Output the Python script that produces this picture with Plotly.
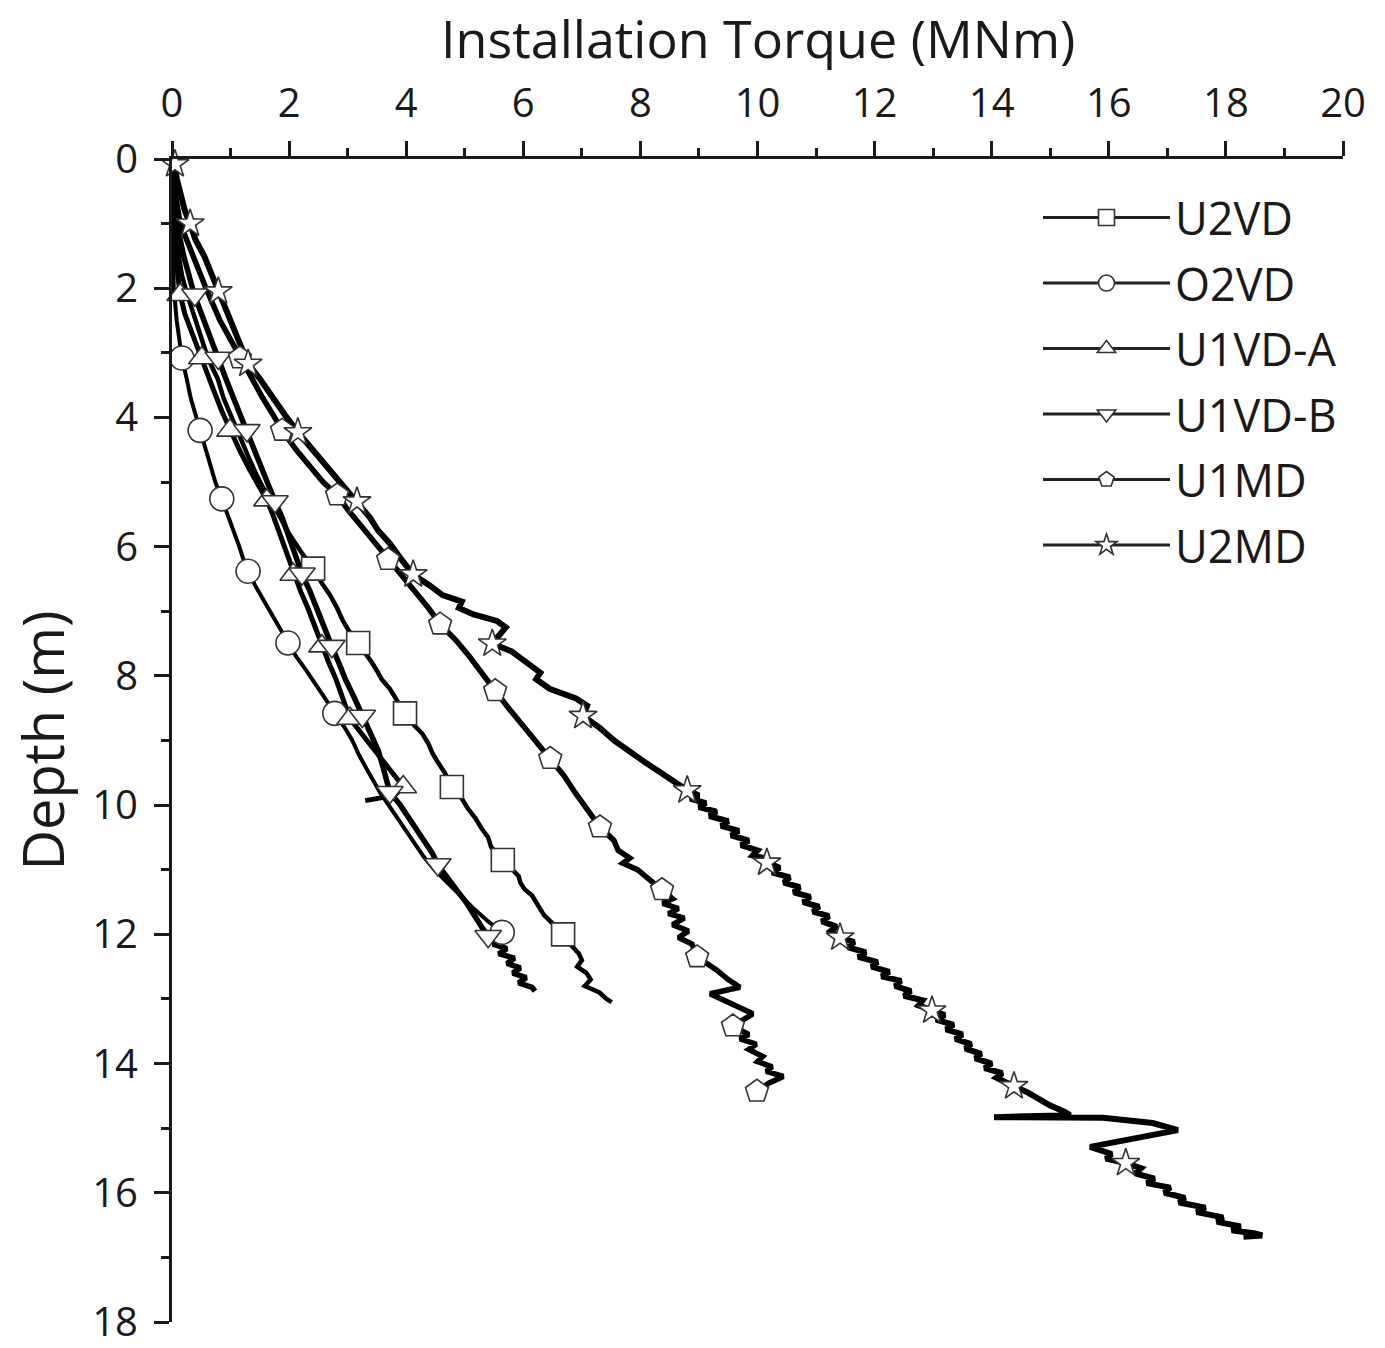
import plotly.graph_objects as go

# ---------------- data (depth in m, torque in MNm) ----------------
u2vd_depth = [0.0, 0.3, 0.7, 1.0, 1.4, 1.8, 2.1, 2.5, 2.8, 3.1, 3.4, 3.7, 4.0, 4.3, 4.6, 4.9, 5.2, 5.5, 5.8, 6.1,
              6.34, 6.55, 6.75, 6.95, 7.15, 7.3, 7.49, 7.65, 7.8, 7.92, 8.05, 8.2, 8.35, 8.45, 8.58, 8.75, 8.9,
              9.05, 9.2, 9.35, 9.5, 9.72, 9.9, 10.05, 10.2, 10.35, 10.5, 10.65, 10.85, 11.0, 11.1, 11.2, 11.3,
              11.4, 11.55, 11.7, 11.85, 12.0, 12.15, 12.3, 12.4, 12.5, 12.6, 12.7, 12.8, 12.9, 13.0, 13.05]
u2vd_torque = [0.0, 0.02, 0.04, 0.05, 0.10, 0.17, 0.26, 0.40, 0.50, 0.62, 0.78, 0.88, 1.02, 1.15, 1.30, 1.45, 1.62,
               1.82, 2.00, 2.22, 2.41, 2.55, 2.70, 2.82, 2.92, 3.02, 3.18, 3.30, 3.42, 3.50, 3.58, 3.72, 3.82, 3.88,
               3.98, 4.12, 4.28, 4.38, 4.45, 4.55, 4.66, 4.78, 4.95, 5.05, 5.18, 5.28, 5.40, 5.45, 5.65, 5.80, 5.92,
               5.95, 6.02, 6.15, 6.25, 6.35, 6.52, 6.68, 6.80, 6.95, 7.00, 6.92, 7.08, 7.15, 7.05, 7.30, 7.42, 7.51]
u2vd_mk_depth = [6.34, 7.49, 8.58, 9.72, 10.85, 12.0]
u2vd_mk_torque = [2.41, 3.18, 3.98, 4.78, 5.65, 6.68]

o2vd_depth = [0.0, 0.5, 1.0, 1.5, 2.0, 2.5, 3.08, 3.4, 3.7, 3.95, 4.2, 4.5, 4.8, 5.0, 5.26, 5.5, 5.75, 6.0, 6.2,
              6.38, 6.6, 6.85, 7.05, 7.25, 7.49, 7.7, 7.9, 8.1, 8.3, 8.58, 8.8, 9.0, 9.2, 9.4, 9.6, 9.8, 10.0,
              10.2, 10.4, 10.6, 10.8, 11.0, 11.2, 11.4, 11.6, 11.8, 11.97]
o2vd_torque = [0.0, 0.0, 0.01, 0.02, 0.03, 0.08, 0.17, 0.25, 0.32, 0.40, 0.48, 0.58, 0.68, 0.74, 0.85, 0.95, 1.05,
               1.15, 1.22, 1.30, 1.42, 1.58, 1.70, 1.82, 1.98, 2.12, 2.28, 2.42, 2.58, 2.78, 2.95, 3.08, 3.18, 3.30,
               3.42, 3.55, 3.70, 3.85, 4.00, 4.15, 4.30, 4.48, 4.70, 4.92, 5.15, 5.40, 5.64]
o2vd_mk_depth = [3.08, 4.2, 5.26, 6.38, 7.49, 8.58, 11.97]
o2vd_mk_torque = [0.17, 0.48, 0.85, 1.30, 1.98, 2.78, 5.64]

u1vda_depth = [0.0, 0.5, 1.0, 1.5, 2.1, 2.4, 2.7, 3.08, 3.3, 3.6, 3.9, 4.2, 4.5, 4.8, 5.05, 5.28, 5.5, 5.75, 6.0,
               6.2, 6.43, 6.7, 6.95, 7.2, 7.54, 7.8, 8.05, 8.3, 8.5, 8.66, 8.85, 9.05, 9.25, 9.45, 9.6, 9.72,
               9.85, 9.93]
u1vda_torque = [0.0, 0.0, 0.02, 0.06, 0.14, 0.22, 0.34, 0.51, 0.60, 0.72, 0.85, 0.99, 1.15, 1.32, 1.48, 1.62, 1.72,
                1.82, 1.92, 2.00, 2.08, 2.20, 2.32, 2.42, 2.56, 2.68, 2.80, 2.90, 2.98, 3.04, 3.20, 3.38, 3.55,
                3.72, 3.85, 3.95, 3.80, 3.30]
u1vda_mk_depth = [2.1, 3.08, 4.2, 5.28, 6.43, 7.54, 8.66, 9.72]
u1vda_mk_torque = [0.14, 0.51, 0.99, 1.62, 2.07, 2.56, 3.04, 3.95]

u1vdb_depth = [0.0, 0.5, 1.0, 1.5, 2.1, 2.4, 2.7, 3.08, 3.4, 3.7, 4.0, 4.2, 4.5, 4.8, 5.05, 5.3, 5.55, 5.8, 6.1,
               6.42, 6.7, 7.0, 7.25, 7.54, 7.8, 8.05, 8.35, 8.62, 8.9, 9.15, 9.4, 9.6, 9.8, 10.0, 10.2, 10.4, 10.6,
               10.75, 10.92, 11.1, 11.3, 11.5, 11.7, 11.9, 12.03, 12.1, 12.15, 12.22, 12.3, 12.37, 12.45, 12.52,
               12.6, 12.67, 12.75, 12.82, 12.88]
u1vdb_torque = [0.0, 0.02, 0.08, 0.20, 0.38, 0.50, 0.62, 0.79, 0.92, 1.05, 1.18, 1.28, 1.40, 1.52, 1.64, 1.76, 1.88,
                1.98, 2.10, 2.22, 2.36, 2.50, 2.62, 2.73, 2.85, 2.96, 3.12, 3.25, 3.40, 3.52, 3.60, 3.66, 3.72, 3.90,
                4.05, 4.20, 4.35, 4.45, 4.54, 4.70, 4.85, 5.02, 5.15, 5.30, 5.40, 5.62, 5.48, 5.72, 5.58, 5.85,
                5.72, 5.95, 5.82, 6.05, 5.92, 6.15, 6.20]
u1vdb_mk_depth = [2.1, 3.08, 4.2, 5.3, 6.42, 7.54, 8.62, 9.8, 10.92, 12.03]
u1vdb_mk_torque = [0.39, 0.79, 1.28, 1.76, 2.22, 2.73, 3.25, 3.72, 4.54, 5.40]

u1md_depth = [0.0, 0.5, 1.0, 1.5, 2.0, 2.5, 3.08, 3.4, 3.7, 3.95, 4.2, 4.5, 4.8, 5.0, 5.2, 5.45, 5.7, 5.95, 6.2,
              6.45, 6.7, 6.95, 7.2, 7.45, 7.7, 7.95, 8.23, 8.5, 8.75, 9.0, 9.28, 9.55, 9.8, 10.05, 10.34, 10.55,
              10.7, 10.82, 10.9, 11.0, 11.15, 11.31, 11.45, 11.52, 11.6, 11.68, 11.75, 11.85, 11.95, 12.05, 12.15,
              12.35, 12.45, 12.55, 12.7, 12.82, 12.92, 13.05, 13.15, 13.23, 13.42, 13.55, 13.62, 13.7, 13.78,
              13.89, 13.97, 14.05, 14.12, 14.2, 14.3, 14.43]
u1md_torque = [0.0, 0.05, 0.14, 0.35, 0.58, 0.82, 1.16, 1.35, 1.55, 1.72, 1.88, 2.12, 2.40, 2.58, 2.82, 3.02, 3.25,
               3.48, 3.69, 3.92, 4.15, 4.38, 4.58, 4.85, 5.08, 5.28, 5.52, 5.75, 5.98, 6.20, 6.46, 6.70, 6.88,
               7.08, 7.31, 7.55, 7.62, 7.82, 7.70, 7.95, 8.15, 8.37, 8.55, 8.38, 8.65, 8.48, 8.75, 8.55, 8.82,
               8.65, 8.88, 8.97, 9.15, 9.30, 9.50, 9.70, 9.19, 9.50, 9.70, 9.92, 9.58, 9.85, 9.70, 9.98, 9.85,
               10.09, 10.00, 10.25, 10.15, 10.44, 10.20, 9.99]
u1md_mk_depth = [3.08, 4.2, 5.2, 6.2, 7.2, 8.23, 9.28, 10.34, 11.31, 12.35, 13.42, 14.43]
u1md_mk_torque = [1.16, 1.88, 2.82, 3.69, 4.58, 5.52, 6.46, 7.31, 8.37, 8.97, 9.58, 9.99]

u2md_depth = [0.0, 0.08, 0.3, 0.55, 0.8, 1.0, 1.25, 1.5, 1.75, 2.05, 2.3, 2.6, 2.9, 3.17, 3.4, 3.7, 3.95, 4.23,
              4.5, 4.8, 5.05, 5.3, 5.55, 5.75, 5.95, 6.2, 6.43, 6.6, 6.75, 6.85, 6.95, 7.05, 7.15, 7.25, 7.35, 7.5,
              7.62, 7.78, 7.95, 8.05, 8.2, 8.35, 8.46, 8.62, 8.8, 9.0, 9.18, 9.35, 9.5, 9.69, 9.77, 9.85, 9.9,
              9.97, 10.03, 10.1, 10.17, 10.25, 10.32, 10.4, 10.47, 10.55, 10.62, 10.7, 10.78, 10.82, 10.89,
              10.97, 11.04, 11.12, 11.2, 11.27, 11.35, 11.42, 11.5, 11.57, 11.65, 11.72, 11.8, 11.88, 11.95,
              12.05, 12.12, 12.2, 12.28, 12.35, 12.43, 12.5, 12.58, 12.65, 12.72, 12.8, 12.88, 12.95, 13.02,
              13.1, 13.18, 13.25, 13.32, 13.4, 13.47, 13.55, 13.62, 13.7, 13.77, 13.85, 13.92, 14.0, 14.07,
              14.15, 14.22, 14.3, 14.35, 14.45, 14.55, 14.65, 14.75, 14.8, 14.83, 14.84, 14.92, 15.03, 15.29,
              15.4, 15.47, 15.54, 15.62, 15.7, 15.78, 15.85, 15.92, 16.0, 16.08, 16.15, 16.23, 16.3, 16.38,
              16.45, 16.52, 16.58, 16.63, 16.66, 16.68]
u2md_torque = [0.0, 0.05, 0.08, 0.15, 0.22, 0.31, 0.40, 0.55, 0.66, 0.79, 0.92, 1.05, 1.18, 1.30, 1.50, 1.72,
               1.92, 2.15, 2.40, 2.68, 2.92, 3.16, 3.38, 3.52, 3.72, 3.92, 4.12, 4.40, 4.62, 4.95, 4.90, 5.15,
               5.55, 5.70, 5.62, 5.47, 5.80, 6.05, 6.29, 6.22, 6.45, 6.90, 7.09, 7.02, 7.30, 7.55, 7.82, 8.10,
               8.35, 8.68, 8.80, 9.00, 8.85, 9.12, 9.00, 9.30, 9.18, 9.50, 9.38, 9.68, 9.55, 9.85, 9.72, 10.00,
               9.92, 10.12, 10.16, 10.38, 10.25, 10.55, 10.45, 10.72, 10.62, 10.90, 10.78, 11.05, 10.95, 11.22,
               11.10, 11.35, 11.25, 11.41, 11.65, 11.55, 11.85, 11.72, 12.05, 11.95, 12.25, 12.12, 12.45, 12.35,
               12.62, 12.50, 12.82, 12.75, 12.98, 13.20, 13.05, 13.35, 13.22, 13.50, 13.38, 13.65, 13.55, 13.82,
               13.72, 14.00, 13.88, 14.18, 14.08, 14.30, 14.38, 14.62, 14.80, 15.00, 15.25, 15.34, 14.04, 15.90,
               16.75, 17.18, 15.68, 16.05, 15.95, 16.29, 16.55, 16.45, 16.78, 16.65, 17.05, 16.95, 17.30, 17.20,
               17.65, 17.50, 17.95, 17.85, 18.25, 18.10, 18.50, 18.62, 18.30]
u2md_mk_depth = [0.08, 1.0, 2.05, 3.17, 4.23, 5.3, 6.43, 7.5, 8.62, 9.77, 10.89, 12.05, 13.18, 14.35, 15.54]
u2md_mk_torque = [0.05, 0.31, 0.79, 1.30, 2.15, 3.16, 4.12, 5.47, 7.02, 8.80, 10.16, 11.41, 12.98, 14.38, 16.29]

names = ["U2VD", "O2VD", "U1VD-A", "U1VD-B", "U1MD", "U2MD"]
symbols = ["square", "circle", "triangle-up", "triangle-down", "pentagon", "star"]
line_x = [u2vd_torque, o2vd_torque, u1vda_torque, u1vdb_torque, u1md_torque, u2md_torque]
line_y = [u2vd_depth, o2vd_depth, u1vda_depth, u1vdb_depth, u1md_depth, u2md_depth]
mk_x = [u2vd_mk_torque, o2vd_mk_torque, u1vda_mk_torque, u1vdb_mk_torque, u1md_mk_torque, u2md_mk_torque]
mk_y = [u2vd_mk_depth, o2vd_mk_depth, u1vda_mk_depth, u1vdb_mk_depth, u1md_mk_depth, u2md_mk_depth]
mk_size = [23, 24, 23, 23, 24, 21]
line_w = [4.5, 4, 5, 5.5, 5.5, 6]

FONT = "Open Sans"
INK = "#1a1a1a"
T_MARGIN, B_MARGIN = 159, 26
PLOT_H = 1348 - T_MARGIN - B_MARGIN
fig = go.Figure()

for i, n in enumerate(names):
    fig.add_trace(go.Scatter(x=line_x[i], y=line_y[i], mode="lines", name=n, legendgroup=n,
                             showlegend=False, line=dict(color="black", width=line_w[i])))
for i, n in enumerate(names):
    fig.add_trace(go.Scatter(x=mk_x[i], y=mk_y[i], mode="markers", name=n, legendgroup=n,
                             showlegend=False, cliponaxis=False,
                             marker=dict(symbol=symbols[i], size=mk_size[i], color="white",
                                         line=dict(color="#333333", width=1.6))))
for i, n in enumerate(names):
    fig.add_trace(go.Scatter(x=[None], y=[None], mode="lines+markers", name=n, legendgroup=n,
                             line=dict(color="#222222", width=3),
                             marker=dict(symbol=symbols[i], size=22, color="white",
                                         line=dict(color="#333333", width=1.6))))

fig.update_layout(
    width=1385, height=1348,
    margin=dict(l=172, r=42, t=T_MARGIN, b=B_MARGIN),
    paper_bgcolor="white", plot_bgcolor="white",
    font=dict(family=FONT, size=40, color=INK),
    annotations=[dict(text="Installation Torque (MNm)", xref="paper", x=0.5, xanchor="center",
                      yref="paper", y=1 + (T_MARGIN - 1) / PLOT_H, yanchor="top", showarrow=False,
                      borderpad=0, font=dict(size=52, family=FONT, color=INK))],
    legend=dict(x=(1038 - 172) / 1171, y=0.9804, xanchor="left", yanchor="top", bgcolor="rgba(0,0,0,0)",
                font=dict(family=FONT, size=45, color=INK), tracegroupgap=4, itemsizing="trace",
                itemwidth=127),
    xaxis=dict(side="top", range=[0, 20], dtick=2, tick0=0, showgrid=False, zeroline=False, automargin=False,
               showline=True, linecolor=INK, linewidth=3, ticks="outside", ticklen=15, tickwidth=3,
               tickcolor=INK, ticklabelstandoff=8, tickfont=dict(size=40),
               minor=dict(dtick=1, ticks="outside", ticklen=8, tickwidth=3, tickcolor=INK, showgrid=False)),
    yaxis=dict(range=[18, 0], dtick=2, tick0=0, showgrid=False, zeroline=False, automargin=False,
               showline=True, linecolor=INK, linewidth=3, ticks="outside", ticklen=15, tickwidth=3,
               tickcolor=INK, ticklabelstandoff=8, ticklabeloverflow="allow", tickfont=dict(size=40),
               minor=dict(dtick=1, ticks="outside", ticklen=8, tickwidth=3, tickcolor=INK, showgrid=False),
               title=dict(text="Depth (m)", font=dict(size=56, family=FONT, color=INK), standoff=10)),
)

fig.write_html("out.html")
